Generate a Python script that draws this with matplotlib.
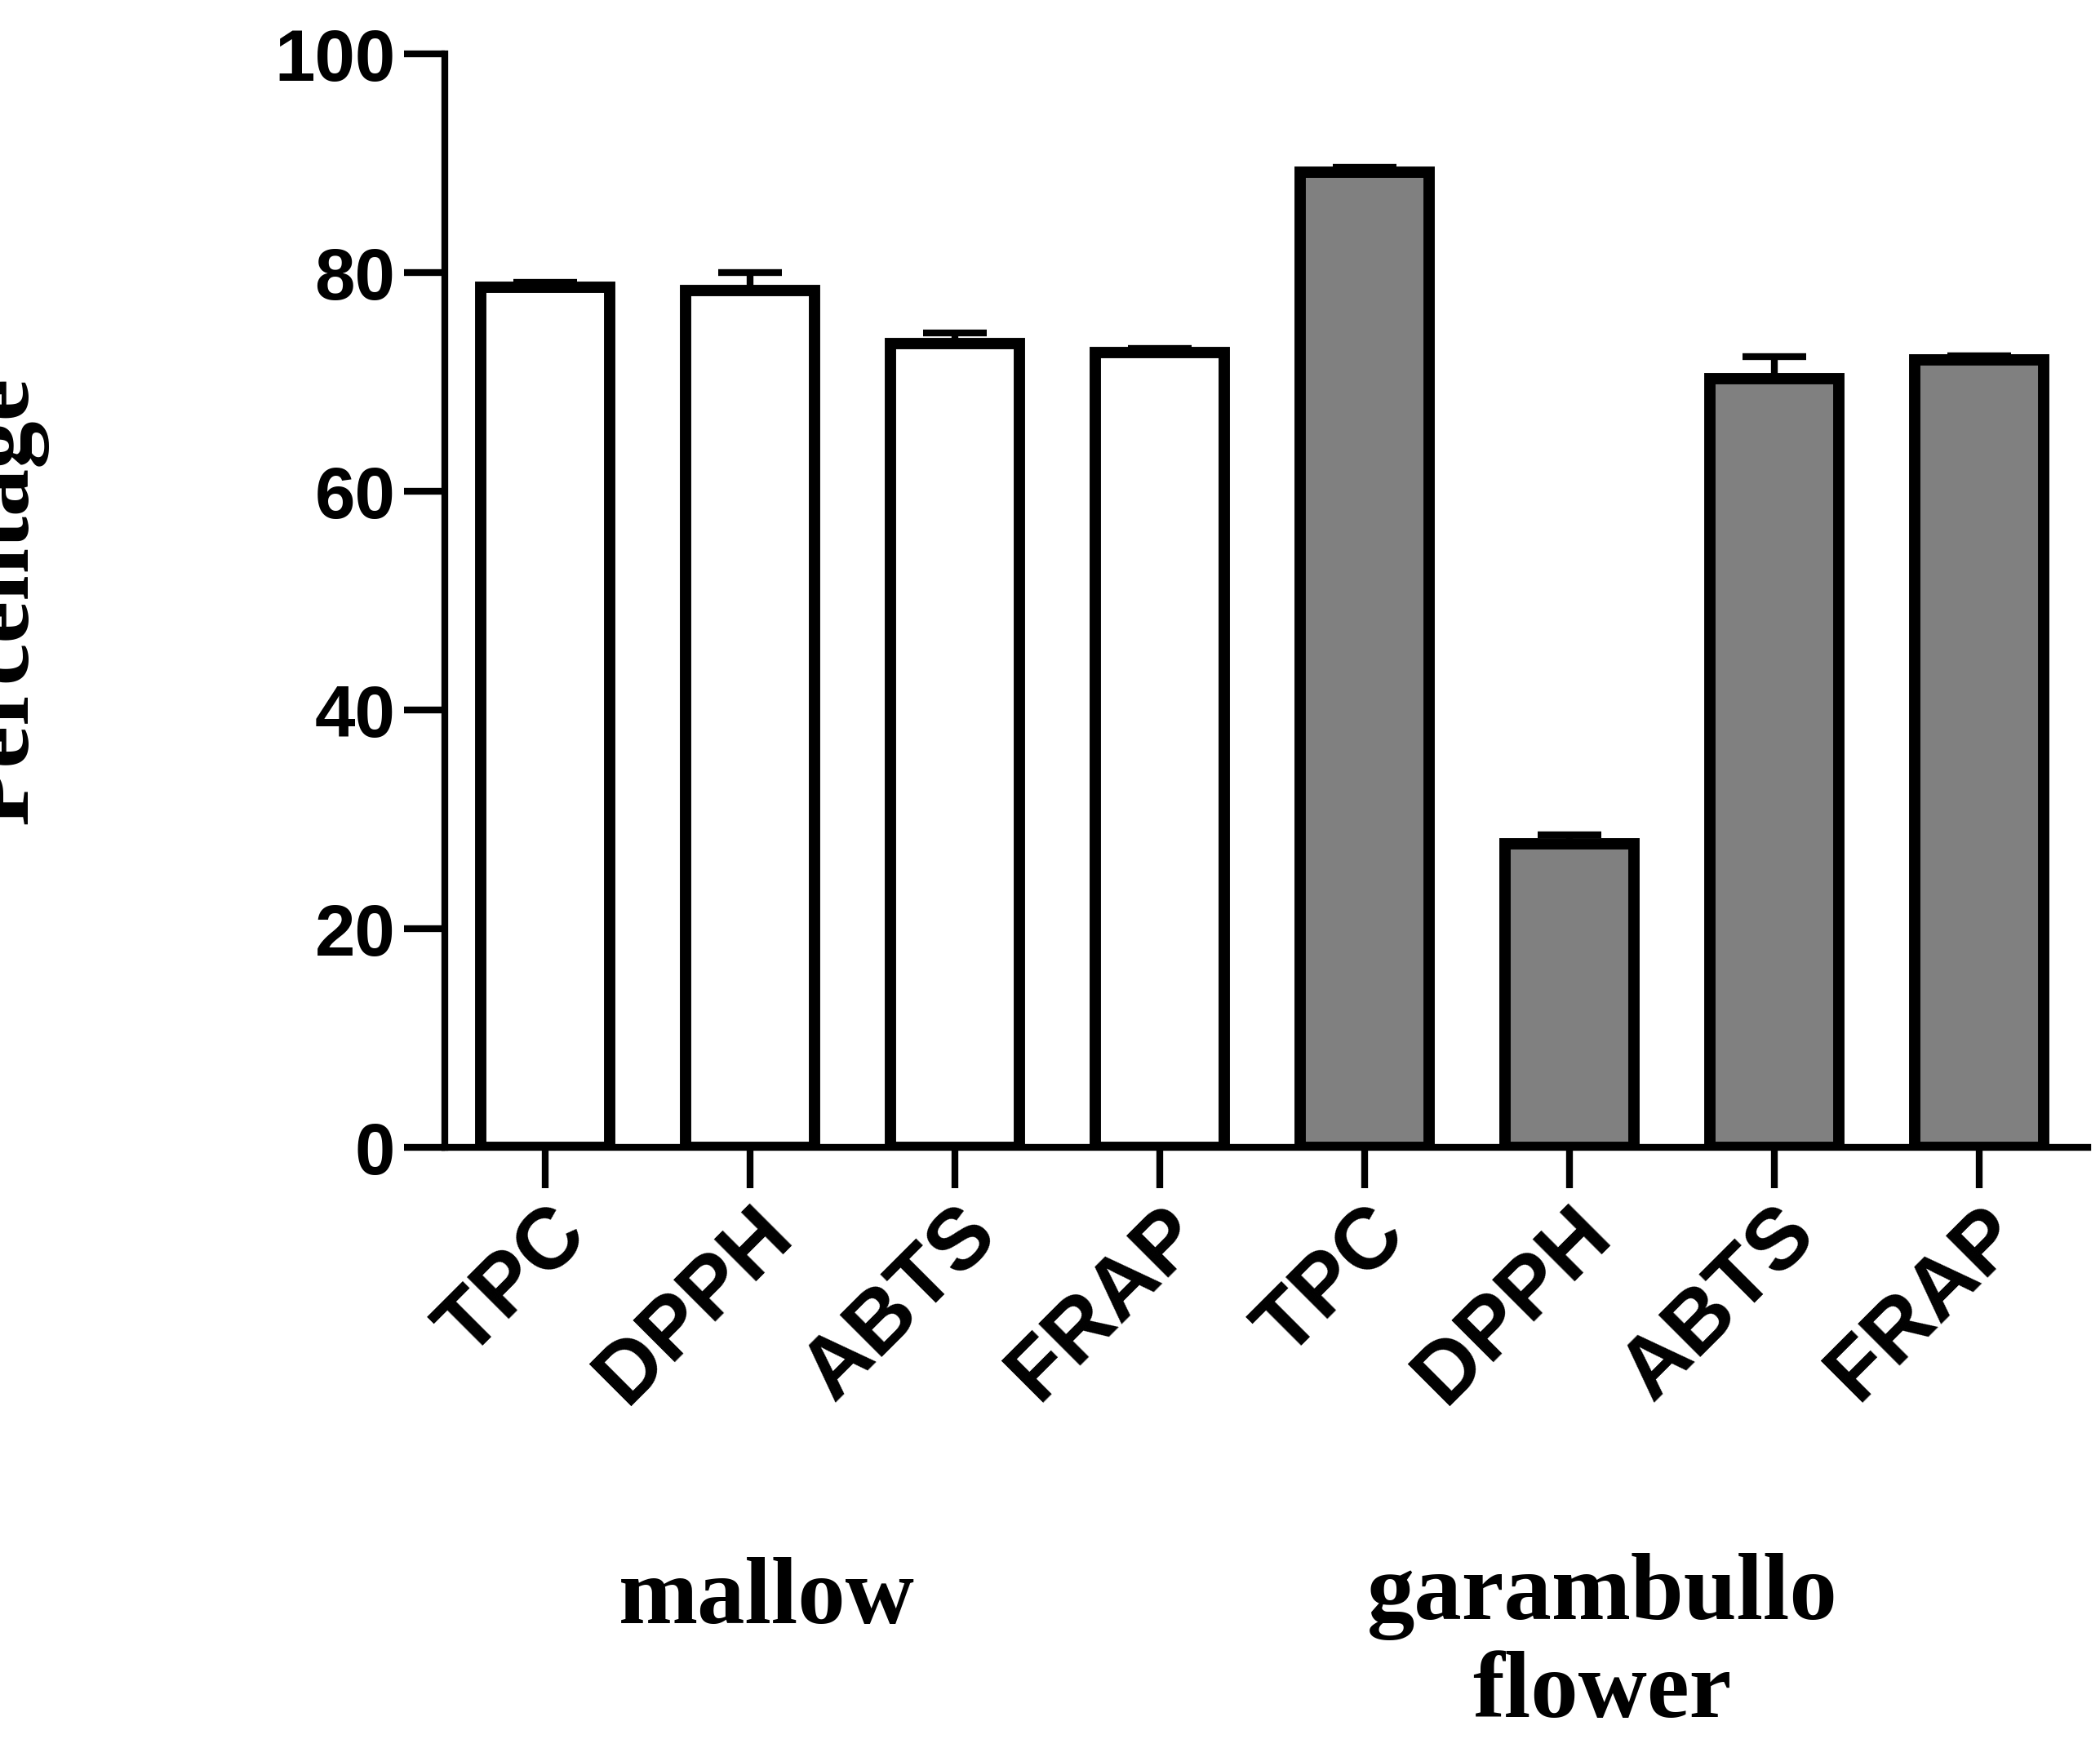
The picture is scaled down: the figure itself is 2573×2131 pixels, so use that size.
import numpy as np
import matplotlib
matplotlib.use("Agg")
import matplotlib.pyplot as plt

# ── Data ───────────────────────────────────────────────────────────────────────
assays = ["TPC", "DPPH", "ABTS", "FRAP", "TPC", "DPPH", "ABTS", "FRAP"]
values = [78.7, 78.4, 73.5, 72.7, 89.2, 27.8, 70.3, 72.0]
errors = [0.4, 1.6, 1.0, 0.4, 0.4, 0.8, 2.0, 0.4]
colors = ["white"] * 4 + ["#808080"] * 4
groups = ["mallow", "garambullo\nflower"]

fig = plt.figure(figsize=(25.73, 21.31), dpi=100)
ax = fig.add_axes([0.212, 0.34, 0.782, 0.629])

x = np.arange(len(values))
ax.bar(x, values, width=0.63, color=colors, edgecolor="black", linewidth=10, zorder=2)
ax.errorbar(x, values, yerr=[np.zeros(len(errors)), errors], fmt="none",
            ecolor="black", elinewidth=6, capsize=28, capthick=6, zorder=1)

ax.set_xlim(-0.49, 7.53)
ax.set_ylim(0, 100)
ax.set_yticks([0, 20, 40, 60, 80, 100])
ax.set_xticks(x)
ax.set_xticklabels(assays, rotation=45, ha="right", rotation_mode="anchor",
                   fontfamily="Liberation Sans", fontweight="bold", fontsize=76)
for lbl in ax.get_yticklabels():
    lbl.set_fontfamily("Liberation Sans")
    lbl.set_fontweight("bold")
    lbl.set_fontsize(64)
ax.tick_params(axis="both", width=6, length=36, direction="out", pad=8)
ax.tick_params(axis="x", pad=4)
for s in ["top", "right"]:
    ax.spines[s].set_visible(False)
for s in ["left", "bottom"]:
    ax.spines[s].set_linewidth(6)

ax.set_ylabel("Percentage", fontfamily="Liberation Serif", fontweight="bold",
              fontsize=84)
ax.yaxis.set_label_coords(-0.242, 0.5)

fig.text(0.365, 0.080, groups[0], ha="center", va="center",
         fontfamily="Liberation Serif", fontweight="bold", fontsize=84)
fig.text(0.763, 0.054, groups[1], ha="center", va="center", linespacing=1.15,
         fontfamily="Liberation Serif", fontweight="bold", fontsize=84)

fig.savefig("out.png", dpi=100)
